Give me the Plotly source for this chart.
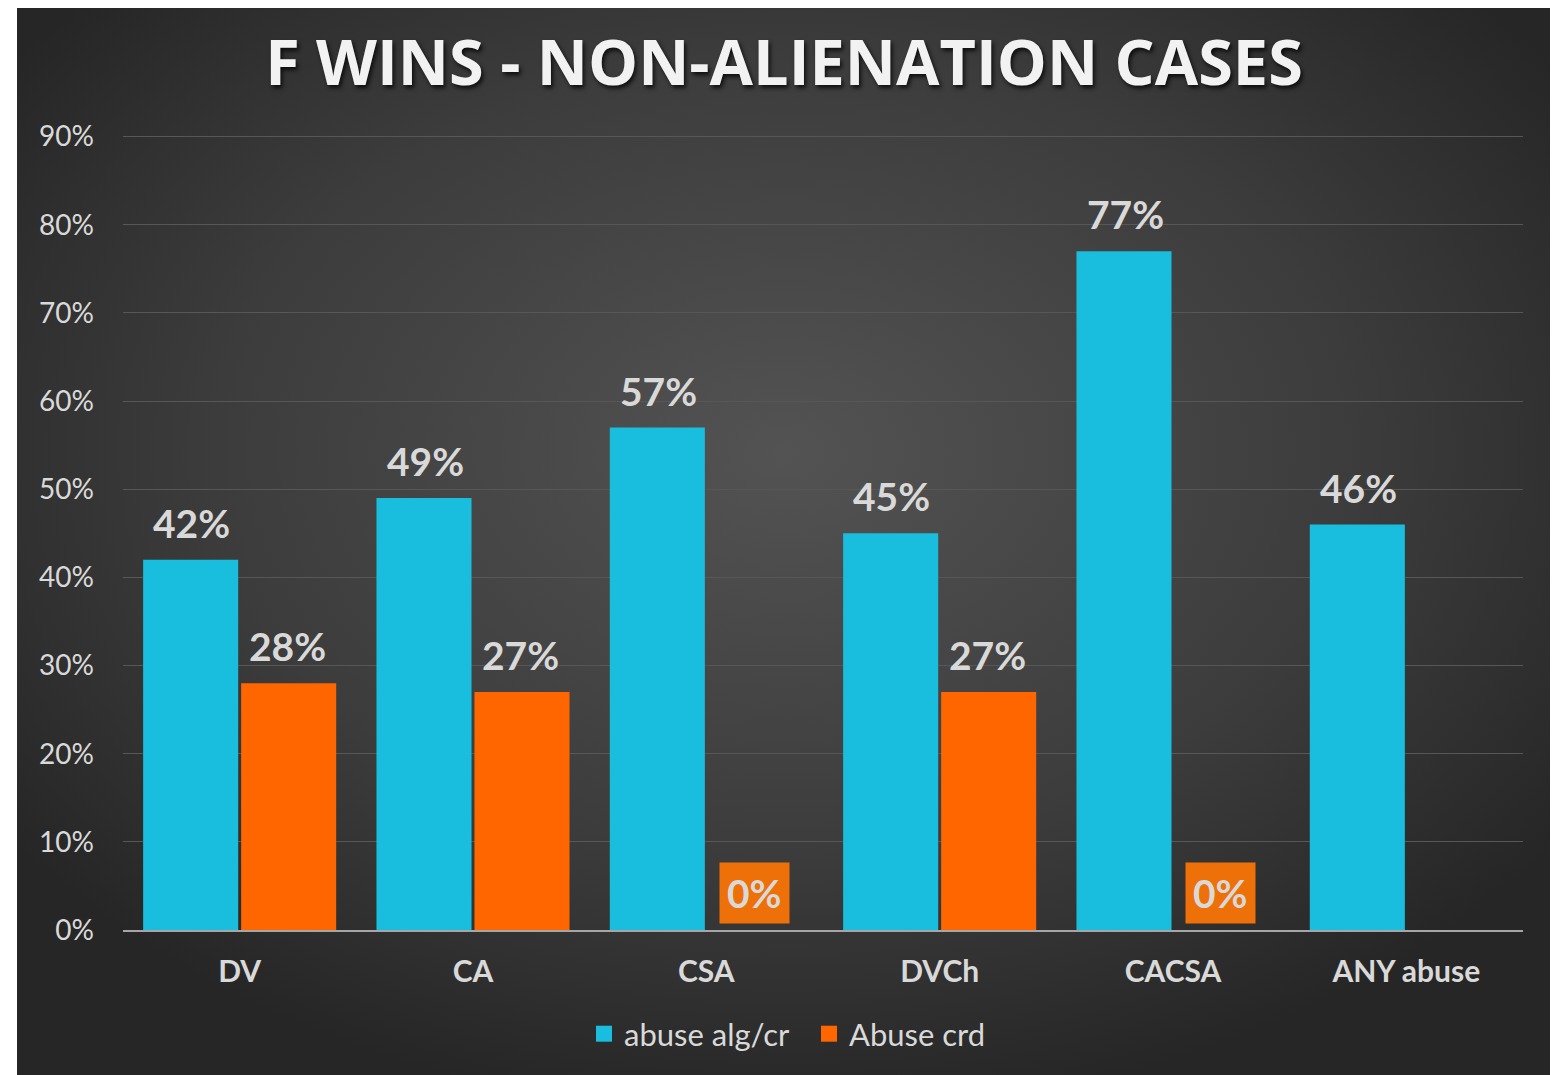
import base64
import plotly.graph_objects as go

categories = ["DV", "CA", "CSA", "DVCh", "CACSA", "ANY abuse"]
alleged = [0.42, 0.49, 0.57, 0.45, 0.77, 0.46]
credited = [0.28, 0.27, 0.00, 0.27, 0.00, None]
series_names = ["abuse alg/cr", "Abuse crd"]
tick_vals = [i / 10 for i in range(10)]
tick_text = [f"{i*10}%" for i in range(10)]

CYAN = "#19BDDD"
ORANGE = "#FF6600"
BOX_ORANGE = "#EE7008"
TXT = "#D9D9D9"
FONT = "Lato"

# page body has an 8px margin; reference pixel coords are offset by it
O = 8

svg = """<svg xmlns='http://www.w3.org/2000/svg' width='1536' height='1073' preserveAspectRatio='none'>
<defs><radialGradient id='g' cx='50%' cy='42%' r='62%'>
<stop offset='0%' stop-color='#535353'/>
<stop offset='60%' stop-color='#3c3c3c'/>
<stop offset='100%' stop-color='#262626'/>
</radialGradient></defs>
<rect width='1536' height='1073' fill='url(#g)'/></svg>"""
bg_src = "data:image/svg+xml;base64," + base64.b64encode(svg.encode()).decode()

W, H = 1558, 1075
YMAX = 0.92
y0_px, y90_px = 930, 137          # reference pixel rows of 0% and 90%
per_unit = (y0_px - y90_px) / 0.9
top_px = y0_px - per_unit * YMAX
ml, mr = 123 - O, 35 + O
mt = top_px - O
mb = H - (y0_px - O)
pw, ph = W - ml - mr, H - mt - mb

def px_x(p):
    return (p - O - ml) / pw

def px_y(p):
    return (H - mb - (p - O)) / ph

fig = go.Figure()
fig.add_trace(go.Bar(
    x=categories, y=alleged, name=series_names[0],
    marker=dict(color=CYAN, line=dict(width=0)),
    hoverinfo="skip", showlegend=False,
))
fig.add_trace(go.Bar(
    x=categories, y=credited, name=series_names[1],
    marker=dict(color=ORANGE, line=dict(width=0)),
    hoverinfo="skip", showlegend=False,
))
# legend entries with larger square swatches
for name, col in zip(series_names, [CYAN, ORANGE]):
    fig.add_trace(go.Scatter(
        x=[None], y=[None], mode="markers", name=name,
        marker=dict(symbol="square", size=19, color=col),
        hoverinfo="skip",
    ))

annotations = []
for i, c in enumerate(categories):
    v = alleged[i]
    annotations.append(dict(
        x=i - 0.205, y=v, xref="x", yref="y", text=f"{round(v*100)}%",
        showarrow=False, yanchor="middle", yshift=37,
        font=dict(family=FONT, size=39, color=TXT, weight="bold"),
    ))
    v2 = credited[i]
    if v2 is None:
        continue
    ann = dict(
        x=i + 0.205, y=v2, xref="x", yref="y", text=f"{round(v2*100)}%",
        showarrow=False, yanchor="middle", yshift=37,
        font=dict(family=FONT, size=39, color=TXT, weight="bold"),
    )
    if v2 == 0:
        ann.update(bgcolor=BOX_ORANGE, borderpad=7)
    annotations.append(ann)

fig.update_layout(
    width=W, height=H,
    margin=dict(l=ml, r=mr, t=mt, b=mb, pad=0),
    paper_bgcolor="white",
    plot_bgcolor="rgba(0,0,0,0)",
    barmode="group", bargap=0.16, bargroupgap=0.03,
    title=dict(
        text="F WINS - NON-ALIENATION CASES",
        x=px_x(784), xref="paper", xanchor="center",
        y=1 - (63 - O) / H, yref="container", yanchor="middle",
        font=dict(family="Open Sans", size=63, color="#F2F2F2", weight="bold",
                  shadow="2px 3px 4px rgba(0,0,0,0.75)"),
    ),
    images=[dict(
        source=bg_src, xref="paper", yref="paper",
        x=px_x(17), y=px_y(2), sizex=(1553 - 17) / pw, sizey=(1075 - 2) / ph,
        xanchor="left", yanchor="top", sizing="stretch", layer="below",
    )],
    xaxis=dict(
        showgrid=False, showline=True, linecolor="#A6A6A6", linewidth=2,
        ticks="", tickfont=dict(family=FONT, size=30, color=TXT, weight="bold"),
        ticklabelstandoff=14, fixedrange=True,
    ),
    yaxis=dict(
        range=[0, YMAX], tickvals=tick_vals, ticktext=tick_text,
        showgrid=True, gridcolor="#575757", gridwidth=1,
        zeroline=False, showline=False, ticks="",
        tickfont=dict(family=FONT, size=28, color=TXT),
        ticklabelstandoff=28, fixedrange=True,
    ),
    legend=dict(
        orientation="h", x=px_x(809), xanchor="center",
        y=px_y(1034), yanchor="middle",
        font=dict(family=FONT, size=31, color=TXT),
        bgcolor="rgba(0,0,0,0)", itemwidth=30, traceorder="normal",
        itemsizing="trace", entrywidth=180,
    ),
    annotations=annotations,
    showlegend=True,
)

fig.write_html("out.html")
